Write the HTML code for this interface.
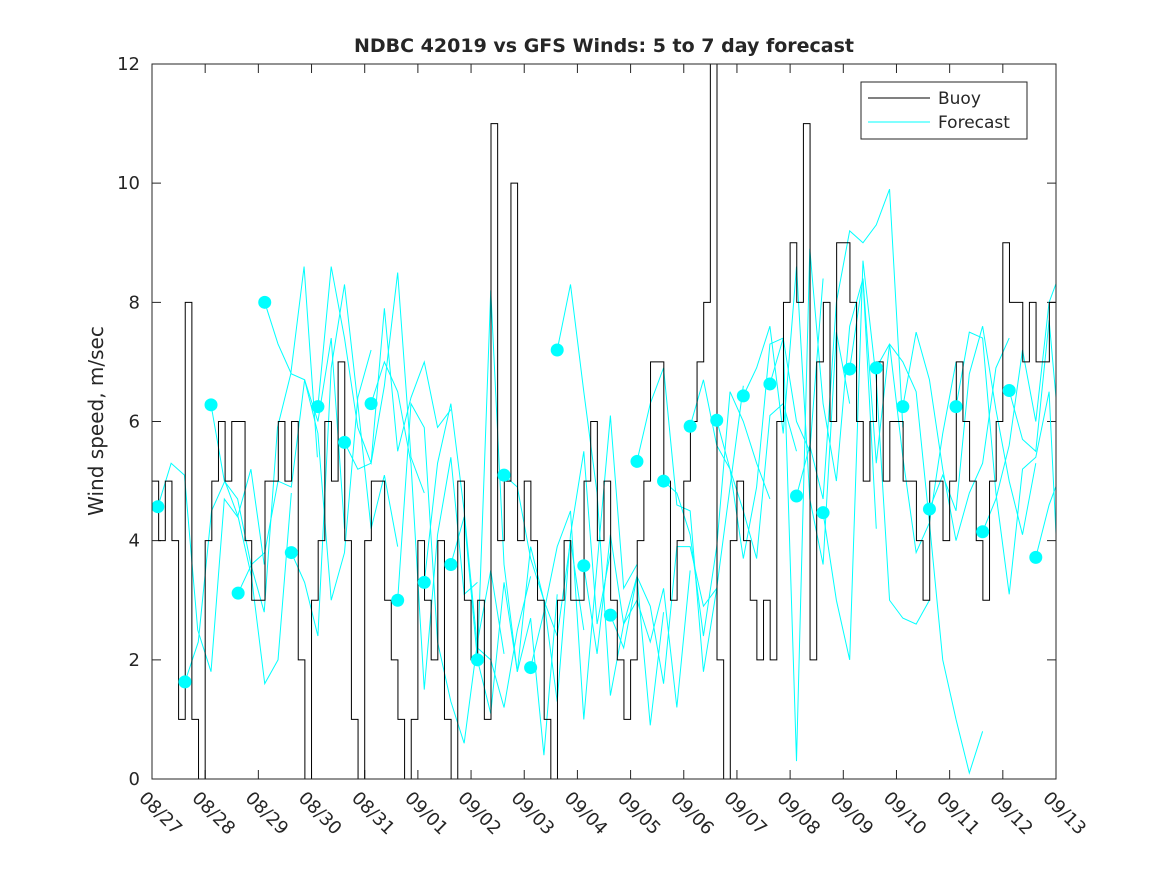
<!DOCTYPE html>
<html><head><meta charset="utf-8"><style>
body{margin:0;background:#fff;font-family:"Liberation Sans","DejaVu Sans",sans-serif}
svg text{font-family:"DejaVu Sans","Liberation Sans",sans-serif;fill:#262626}
</style></head><body>
<svg id="chart" width="1167" height="875">
<defs><clipPath id="pc"><rect x="152" y="64" width="904" height="715"/></clipPath></defs>
<rect width="1167" height="875" fill="#fff"/>
<text x="604" y="52" text-anchor="middle" font-size="19" font-weight="bold" fill="#000">NDBC 42019 vs GFS Winds: 5 to 7 day forecast</text>
<text transform="translate(103,421) rotate(-90)" text-anchor="middle" font-size="20">Wind speed, m/sec</text>
<g id="axes"></g>
<g id="plot" clip-path="url(#pc)"></g>
<rect x="152" y="64" width="904" height="715" fill="none" stroke="#262626" stroke-width="1"/>
<g>
<rect x="861" y="82" width="166" height="57" fill="#fff" stroke="#262626"/>
<g><line x1="868" y1="98" x2="930" y2="98" stroke="#000"/><text x="938" y="104" font-size="17">Buoy</text></g>
<g><line x1="868" y1="122" x2="930" y2="122" stroke="#0ff"/><text x="938" y="128" font-size="17">Forecast</text></g>
</g>
</svg>
<script>
const dateLabels=["08/27","08/28","08/29","08/30","08/31","09/01","09/02","09/03","09/04","09/05","09/06","09/07","09/08","09/09","09/10","09/11","09/12","09/13"];
const yTicks=[0,2,4,6,8,10,12];
// buoy, 3-hourly from 08/27 00h
const buoy=[5,4,5,4,1,8,1,0, 4,5,6,5,6,6,4,3, 3,5,5,6,5,6,2,0, 3,4,6,5,7,4,1,0,
 4,5,5,3,2,1,0,1, 4,3,2,4,1,0,5,3, 2,3,1,11,4,5,10,4, 5,4,3,1,0,3,4,3,
 3,5,6,4,5,3,2,1, 2,4,5,7,7,5,3,4, 5,6,7,8,12,2,0,4, 5,4,3,2,3,2,6,8,
 9,8,11,2,7,8,6,9, 9,8,6,5,6,7,5,6, 6,5,5,4,3,5,5,4, 5,7,6,5,4,3,5,6, 9,8,8,7,8,7,7,8];
const dotDays=[0.11,0.62,1.11,1.62,2.12,2.62,3.12,3.62,4.12,4.62,5.12,5.62,6.12,6.62,7.12,7.62,8.12,8.62,9.12,9.62,10.12,10.62,11.12,11.62,12.12,12.62,13.12,13.62,14.12,14.62,15.12,15.62,16.12,16.62];
const dotVals=[4.57,1.63,6.28,3.12,8.0,3.8,6.25,5.65,6.3,3.0,3.3,3.6,2.0,5.1,1.87,7.2,3.58,2.75,5.33,5.0,5.92,6.02,6.43,6.63,4.75,4.47,6.88,6.9,6.25,4.53,6.25,4.15,6.52,3.72];
const runs=[[5.3,5.1,2.5,1.8,4.7,4.4,5.2,3.6],[2.3,4.5,5.0,4.4,3.4,1.6,2.0,4.8],[5.0,4.7,3.6,2.8,5.9,6.8,8.6,5.4],[3.6,3.8,5.0,4.9,6.7,6.0,7.4,4.2],[7.3,6.8,6.7,5.8,3.0,3.8,6.4,7.2],
[3.3,2.4,6.9,8.3,6.3,4.2,5.1,3.9],[8.6,7.4,5.9,5.3,6.6,8.5,5.4,4.8],[5.2,5.3,7.9,5.5,6.4,7.0,5.9,6.2],[7.0,6.5,5.3,1.5,4.1,5.4,3.1,3.3],[6.3,5.9,2.3,1.3,0.6,2.3,3.5,2.1],
[5.3,6.3,4.5,2.2,2.0,1.2,2.5,3.4],[4.4,2.0,8.2,3.6,1.8,2.7,0.4,3.1],[1.1,3.3,1.8,3.9,3.0,2.4,4.0,2.5],[4.9,3.7,3.0,1.3,4.1,5.5,2.6,3.8],[2.8,3.9,4.5,1.0,3.6,6.1,3.2,3.6],
[8.3,6.5,4.8,1.4,2.6,3.4,0.9,2.8],[2.1,4.1,2.6,3.0,2.3,3.2,1.2,3.5],[2.2,3.4,2.9,1.6,3.9,3.9,2.9,3.2],[6.3,6.9,4.6,4.5,1.8,3.2,4.9,6.6],[4.8,4.1,2.4,3.9,6.5,6.0,5.3,4.7],
[6.7,5.6,5.2,4.5,3.7,6.1,6.3,5.5],[5.2,3.7,4.9,7.3,7.4,6.0,5.5,8.4],[6.9,7.6,5.8,8.6,4.7,3.6,7.5,6.3],[7.4,0.3,8.9,6.3,5.0,7.6,8.4,4.2],[5.6,4.7,8.0,9.2,9.0,9.3,9.9,5.9],
[3.0,2.0,8.7,6.7,3.0,2.7,2.6,3.0],[8.4,5.3,7.3,5.4,3.8,4.3,5.8,7.0],[7.3,7.0,6.5,4.3,2.0,1.0,0.1,0.8],[7.5,6.7,5.2,4.0,4.8,5.3,6.9,7.4],[5.1,4.5,6.8,7.6,6.2,5.0,4.1,5.3],
[7.5,7.4,4.8,3.1,5.2,5.4,6.5,1.9],[4.7,5.6,7.2,6.0,8.0,8.6,8.7,8.2],[5.7,5.5,7.7,5.2,4.8,7.8,8.9,9.4],[4.6,5.2,6.2,8.0,9.0,5.3]];
const X0=152,W=904,Y0=779,H=715;
const xs=d=>X0+d/17*W, ys=v=>Y0-v/12*H;
const NS="http://www.w3.org/2000/svg";
const g=document.getElementById('plot'), ax=document.getElementById('axes');
function mk(t,a,p){const e=document.createElementNS(NS,t);for(const k in a)e.setAttribute(k,a[k]);(p||g).appendChild(e);return e;}
yTicks.forEach(v=>{
 const y=ys(v);
 const tk=mk('path',{d:`M${X0} ${y}h9M${X0+W} ${y}h-9`,stroke:'#262626'},ax);
 
 
 const t=mk('text',{x:X0-12,y:y+6,'text-anchor':'end','font-size':18},ax);t.textContent=v;
 
 
});
dateLabels.forEach((s,i)=>{
 const x=xs(i);
 const tk=mk('path',{d:`M${x} ${Y0}v-9M${x} 64v9`,stroke:'#262626'},ax);
 
 
 const t=mk('text',{transform:`translate(${x-14},${Y0+20}) rotate(45)`,'font-size':18},ax);t.textContent=s;
 
 
});
runs.forEach((r,i)=>{
 let d=`M${xs(dotDays[i])} ${ys(dotVals[i])}`;
 r.forEach((v,j)=>{d+=`L${xs(dotDays[i]+(j+1)*0.25)} ${ys(v)}`;});
 const p=mk('path',{d,fill:'none',stroke:'#0ff','stroke-width':1});
 
 
});
const step=17/buoy.length;
let d=`M${xs(0)} ${ys(buoy[0])}`;
buoy.forEach((v,i)=>{d+=`L${xs(i*step)} ${ys(v)}L${xs((i+1)*step)} ${ys(v)}`;});
const bl=mk('path',{d,fill:'none',stroke:'#000','stroke-width':1});


dotDays.forEach((dd,i)=>{
 const c=mk('circle',{cx:xs(dd),cy:ys(dotVals[i]),r:6.5,fill:'#0ff'});
 
 
});
</script>
</body></html>
